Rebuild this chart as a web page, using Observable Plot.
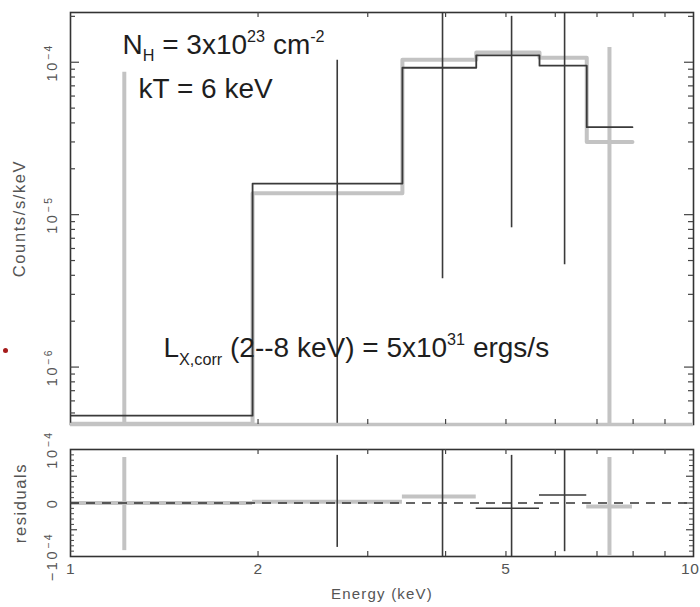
<!DOCTYPE html>
<html>
<head>
<meta charset="utf-8">
<script src="https://cdn.jsdelivr.net/npm/d3@7"></script>
<script src="https://cdn.jsdelivr.net/npm/@observablehq/plot@0.6"></script>
<style>
  body { margin: 0; background: #fff; }
  #chart { position: relative; width: 700px; height: 607px; overflow: hidden; background: #fff; }
  #chart svg { position: absolute; left: 0; }
  #dot { position: absolute; left: 3px; top: 348px; width: 5px; height: 5px; border-radius: 50%; background: #a51b1b; }
</style>
</head>
<body>
<div id="chart"><div id="dot"></div></div>
<script>
// ---------------- data ----------------
const binEdges   = [1.0, 1.96, 3.41, 4.48, 5.66, 6.74, 7.98];           // keV
const modelBlack = [4.8e-7, 1.60e-5, 9.2e-5, 1.11e-4, 9.5e-5, 3.75e-5];   // counts/s/keV
const modelGray  = [4.25e-7, 1.38e-5, 1.04e-4, 1.16e-4, 1.07e-4, 3.0e-5];
const dataEnergy = [1.22, 2.68, 3.955, 5.105, 6.21, 7.33];
const dataColor  = ["gray", "black", "black", "black", "black", "gray"];
const errHigh    = [8.6e-5, 1.03e-4, 3e-4, 2.0e-4, 3e-4, 1.25e-4];
const errLow     = [1e-7, 1e-7, 3.8e-6, 8.2e-6, 4.7e-6, 1e-7];
const resid      = [0, 2.5e-6, 1.2e-5, -9.7e-6, 1.5e-5, -6.5e-6];
const residColor = ["gray", "gray", "gray", "black", "black", "gray"];
const residHigh  = [8.5e-5, 8.9e-5, 1.3e-4, 8.9e-5, 1.3e-4, 8.5e-5];
const residLow   = [-8.9e-5, -8.3e-5, -1.3e-4, -1.3e-4, -9.1e-5, -9.8e-5];

const xTickLabels   = [1, 2, 5, 10];
const xMinorTicks   = [2, 3, 4, 5, 6, 7, 8, 9];
const yTopTickVals  = [1e-4, 1e-5, 1e-6];
const yTopTickText  = ["10^{−4}", "10^{−5}", "10^{−6}"];
const yResTickVals  = [1e-4, 0, -1e-4];
const yResTickText  = ["10^{−4}", "0", "−10^{−4}"];

const annotations = [
  {x: 1.212, y: 1.14e-4, text: "N_{H} = 3x10^{23} cm^{-2}"},
  {x: 1.286, y: 5.87e-5, text: "kT = 6 keV"},
  {x: 1.41,  y: 1.16e-6, text: "L_{X,corr} (2--8 keV) = 5x10^{31} ergs/s"}
];

// ---------------- styling ----------------
const BLACK = "#3a3a3a", GRAY = "#c3c3c3", FRAME = "#333", LABEL = "#555";
const FONT = "'Liberation Sans', Arial, Helvetica, sans-serif";
// font size -> letter spacing (the reference's small texts are widely spaced)
const SPACING = {"14.5": 2.6, "16.5": 1.6, "15": 1.2, "15.5": 0.6};

const W = 700, mL = 70, mR = 7;
const innerW = W - mL - mR;

// ---------------- derived tables ----------------
function stepPts(vals) {
  const pts = vals.map((v, i) => ({x: binEdges[i], y: v}));
  pts.push({x: binEdges[vals.length], y: vals[vals.length - 1]});
  return pts;
}
const points = dataEnergy.map((e, i) => ({
  e, c: dataColor[i], lo: errLow[i], hi: errHigh[i],
  r: resid[i], rc: residColor[i], rlo: residLow[i], rhi: residHigh[i],
  x1: binEdges[i], x2: binEdges[i + 1]
}));
const yTopDomain = [4.2e-7, 2.12e-4];
const yMinorTop = [];
for (let e = -7; e <= -4; e++) for (let k = 2; k <= 9; k++) {
  const v = k * Math.pow(10, e);
  if (v > yTopDomain[0] && v < yTopDomain[1]) yMinorTop.push(v);
}
const yResMinor = [];
for (let i = -9; i <= 9; i++) if (i !== 0 && Math.abs(i) !== 5) yResMinor.push(i * 1e-5);
const yResMid = [-5e-5, 5e-5];

const tick = (opts) => Object.assign({stroke: "#444", strokeWidth: 1.2}, opts);

// ---------------- top panel ----------------
const topH = 430, topMT = 12, topMB = 6;
const topInner = topH - topMT - topMB;

const topPlot = Plot.plot({
  width: W, height: topH,
  marginLeft: mL, marginRight: mR, marginTop: topMT, marginBottom: topMB,
  x: {type: "log", domain: [1, 10], axis: null},
  y: {type: "log", domain: yTopDomain, axis: null},
  style: {fontFamily: FONT, background: "transparent", overflow: "visible"},
  marks: [
    Plot.line(stepPts(modelGray), {x: "x", y: "y", curve: "step-after", stroke: GRAY, strokeWidth: 4, clip: true}),
    Plot.ruleX(points.filter(d => d.c === "gray"), {x: "e", y1: "lo", y2: "hi", stroke: GRAY, strokeWidth: 4, clip: true}),
    Plot.line(stepPts(modelBlack), {x: "x", y: "y", curve: "step-after", stroke: BLACK, strokeWidth: 1.8, clip: true}),
    Plot.ruleX(points.filter(d => d.c === "black"), {x: "e", y1: "lo", y2: "hi", stroke: BLACK, strokeWidth: 1.6, clip: true}),
    Plot.frame({stroke: FRAME, strokeWidth: 1.6}),
    Plot.ruleY([yTopDomain[0]], {stroke: GRAY, strokeWidth: 3.5}),
    Plot.ruleX(xMinorTicks, tick({x: d => d, insetTop: topInner - 5})),
    Plot.ruleX(xMinorTicks, tick({x: d => d, insetBottom: topInner - 5})),
    Plot.ruleY(yTopTickVals, tick({y: d => d, insetRight: innerW - 9})),
    Plot.ruleY(yTopTickVals, tick({y: d => d, insetLeft: innerW - 9})),
    Plot.ruleY(yMinorTop, tick({y: d => d, insetRight: innerW - 5})),
    Plot.ruleY(yMinorTop, tick({y: d => d, insetLeft: innerW - 5})),
    Plot.text(yTopTickVals, {y: d => d, text: (d, i) => yTopTickText[i], frameAnchor: "left", textAnchor: "middle", dx: -18, rotate: -90, fontSize: 14.5, fill: LABEL}),
    Plot.text(["Counts/s/keV"], {text: d => d, frameAnchor: "left", textAnchor: "middle", dx: -51, rotate: -90, fontSize: 16.5, fill: LABEL}),
    Plot.text(annotations, {x: "x", y: "y", text: "text", textAnchor: "start", lineAnchor: "bottom", fontSize: 28, fill: "#1e1e1e"})
  ]
});
topPlot.style.top = "0px";

// ---------------- residual panel ----------------
const botH = 177, botMT = 19, botMB = 51;
const botInner = botH - botMT - botMB;
const botPlot = Plot.plot({
  width: W, height: botH,
  marginLeft: mL, marginRight: mR, marginTop: botMT, marginBottom: botMB,
  x: {type: "log", domain: [1, 10], axis: null},
  y: {domain: [-1e-4, 1e-4], axis: null},
  style: {fontFamily: FONT, background: "transparent", overflow: "visible"},
  marks: [
    Plot.ruleY(points.filter(d => d.rc === "gray"), {y: "r", x1: "x1", x2: "x2", stroke: GRAY, strokeWidth: 4}),
    Plot.ruleX(points.filter(d => d.c === "gray"), {x: "e", y1: "rlo", y2: "rhi", stroke: GRAY, strokeWidth: 4, clip: true}),
    Plot.ruleY([0], {stroke: "#333", strokeWidth: 1.5, strokeDasharray: "9,7"}),
    Plot.ruleY(points.filter(d => d.rc === "black"), {y: "r", x1: "x1", x2: "x2", stroke: BLACK, strokeWidth: 1.6}),
    Plot.ruleX(points.filter(d => d.c === "black"), {x: "e", y1: "rlo", y2: "rhi", stroke: BLACK, strokeWidth: 1.6, clip: true}),
    Plot.frame({stroke: FRAME, strokeWidth: 1.6}),
    Plot.ruleX(xMinorTicks, tick({x: d => d, insetTop: botInner - 5})),
    Plot.ruleX(xMinorTicks, tick({x: d => d, insetBottom: botInner - 5})),
    Plot.ruleY([0], tick({insetRight: innerW - 9})),
    Plot.ruleY([0], tick({insetLeft: innerW - 9})),
    Plot.ruleY(yResMid, tick({y: d => d, insetRight: innerW - 7})),
    Plot.ruleY(yResMid, tick({y: d => d, insetLeft: innerW - 7})),
    Plot.ruleY(yResMinor, tick({y: d => d, insetRight: innerW - 4, strokeWidth: 1})),
    Plot.ruleY(yResMinor, tick({y: d => d, insetLeft: innerW - 4, strokeWidth: 1})),
    Plot.text(yResTickVals, {y: d => d, text: (d, i) => yResTickText[i], frameAnchor: "left", textAnchor: "middle", dx: -18, rotate: -90, fontSize: 14.5, fill: LABEL}),
    Plot.text(xTickLabels.slice(0, -1), {x: d => d, text: d => String(d), frameAnchor: "bottom", textAnchor: "middle", dy: 17, fontSize: 15.5, fill: LABEL}),
    Plot.text(xTickLabels.slice(-1), {x: d => d, text: d => String(d), frameAnchor: "bottom", textAnchor: "end", dx: 6, dy: 17, fontSize: 15.5, fill: LABEL}),
    Plot.text(["Energy (keV)"], {text: d => d, frameAnchor: "bottom", textAnchor: "middle", dy: 42, fontSize: 15, fill: LABEL}),
    Plot.text(["residuals"], {text: d => d, frameAnchor: "left", textAnchor: "middle", dx: -50, rotate: -90, fontSize: 16.5, fill: LABEL})
  ]
});
botPlot.style.top = topH + "px";

// ---------------- rich text (sub/superscripts) + letter spacing ----------------
function richify(svg) {
  const ns = "http://www.w3.org/2000/svg";
  svg.querySelectorAll("text").forEach(t => {
    const s = t.textContent;
    const fsEl = t.closest("[font-size]");
    const fsStr = fsEl ? fsEl.getAttribute("font-size") : "12";
    const fs = parseFloat(fsStr);
    const ls = SPACING[String(fs)];
    if (ls) t.setAttribute("letter-spacing", ls);
    if (!/[_^]\{/.test(s)) return;
    while (t.firstChild) t.removeChild(t.firstChild);
    const re = /([_^])\{([^}]*)\}|([^_^]+)/g;
    let m, shift = 0;
    const small = fs >= 20 ? 0.58 : 0.72;
    while ((m = re.exec(s))) {
      const sp = document.createElementNS(ns, "tspan");
      let target = 0;
      if (m[1]) {
        target = m[1] === "^" ? -(fs >= 20 ? 0.42 : 0.38) * fs : 0.28 * fs;
        sp.textContent = m[2];
        sp.setAttribute("font-size", (small * fs).toFixed(1));
      } else {
        sp.textContent = m[3];
      }
      sp.setAttribute("dy", (target - shift).toFixed(1));
      shift = target;
      t.appendChild(sp);
    }
  });
}
richify(topPlot);
richify(botPlot);

const chart = document.getElementById("chart");
chart.appendChild(topPlot);
chart.appendChild(botPlot);
</script>
</body>
</html>
